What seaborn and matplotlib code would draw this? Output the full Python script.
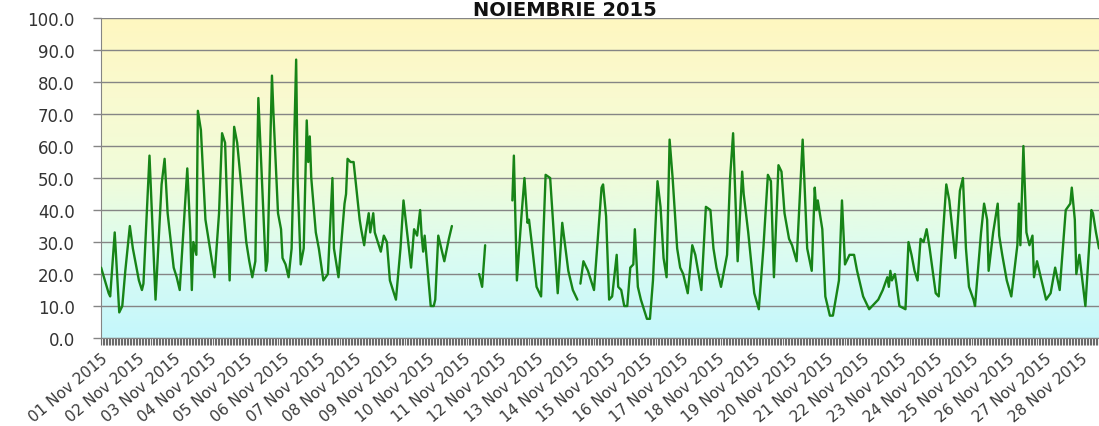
import numpy as np
import pandas as pd
import seaborn as sns
import matplotlib.pyplot as plt
import matplotlib.dates as mdates
from matplotlib.colors import LinearSegmentedColormap
from matplotlib.ticker import FormatStrFormatter

# hourly concentration readings, hours counted from 01 Nov 2015 00:00 (nan = gap)
hours = [
    0, 5, 6, 9, 12, 14, 16, 19, 21, 25, 27, 28, 32, 36, 40, 42, 44, 48, 50, 52,
    57, 59, 60, 61, 63, 64, 66, 69, 72, 75, 78, 80, 82, 85, 88, 90, 92, 96, 98, 100,
    102, 104, 109, 110, 113, 114, 117, 119, 120, 122, 124, 126, 129, 130, 132, 134,
    136, 137, 138, 139, 142, 144, 147, 150, 153, 154, 157, 161, 162, 163, 165, 167,
    169, 171, 172, 174, 175, 177, 178, 180, 181, 183, 185, 187, 189, 191, 195, 198,
    200, 205, 207, 209, 211, 212, 213, 214, 218, 220, 221, 223, 226, 227, 230, 232,
    240,
    250, 252, 254,
    263,
    272, 273, 275, 278, 280, 282, 283, 285, 288, 291, 294, 297, 302, 305, 309, 312, 315,
    316,
    317, 319, 322, 326, 331, 332, 334, 336, 338, 341, 342, 344, 346, 348, 350, 352,
    353, 355, 357, 359, 361, 363, 365, 368, 370, 372, 374, 376, 378, 381, 383, 385,
    388, 391, 393, 397, 400, 403, 405, 407, 410, 414, 416, 418, 421, 424, 425, 428,
    432, 435, 438, 441, 443, 445, 448, 450, 452, 455, 457, 460, 464, 467, 470, 472,
    473, 474, 477, 479, 482, 484, 488, 490, 492, 495, 498, 500, 504, 508, 510, 514,
    517, 520, 521, 522, 523, 525, 526, 528, 532, 534, 536, 538, 540, 542, 544, 546,
    548, 552, 554, 559, 561, 565, 568, 570, 572, 574, 577, 578, 582, 584, 586, 587,
    590, 593, 594, 596, 599, 602, 606, 607, 608, 610, 612, 614, 616, 617, 619, 622,
    625, 628, 631, 634, 638, 641, 642, 644, 645, 647, 649, 651, 655, 656, 658, 660,
]
values = [
    22, 14, 13, 33, 8, 10, 21, 35, 28, 18, 15, 17, 57, 12, 48, 56, 39, 22, 19, 15,
    53, 33, 15, 30, 26, 71, 65, 37, 28, 19, 39, 64, 61, 18, 66, 61, 51, 30, 24, 19,
    24, 75, 21, 24, 82, 70, 39, 34, 25, 23, 19, 28, 87, 49, 23, 28,
    68, 55, 63, 50, 33, 28, 18, 20, 50, 28, 19, 42, 45, 56, 55, 55,
    46, 37, 34, 29, 33, 39, 33, 39, 33, 30, 27, 32, 30, 18, 12, 28,
    43, 22, 34, 32, 40, 32, 27, 32, 10, 10, 12, 32, 26, 24, 31, 35,
    np.nan,
    20, 16, 29,
    np.nan,
    43, 57, 18, 38, 50, 36, 37, 29, 16, 13, 51, 50, 14, 36, 21, 15, 12,
    np.nan,
    17, 24, 21, 15, 47, 48, 38, 12, 13, 26, 16, 15, 10, 10, 22, 23,
    34, 16, 12, 9, 6, 6, 18, 49, 41, 25, 19, 62, 50, 28, 22, 20,
    14, 29, 26, 15, 41, 40, 28, 22, 16, 26, 50, 64, 24, 52, 45, 33,
    14, 9, 28, 51, 49, 19, 54, 52, 39, 31, 29, 24, 62, 28, 21, 47,
    40, 43, 34, 13, 7, 7, 18, 43, 23, 26, 26, 21, 13, 9, 10, 12,
    15, 19, 16, 21, 18, 20, 17, 10, 9, 30, 26, 21, 18, 31, 30, 34,
    28, 14, 13, 48, 43, 25, 46, 50, 28, 16, 12, 10, 33, 42, 37, 21,
    33, 42, 32, 26, 18, 13, 29, 42, 29, 60, 33, 29, 32, 19, 24, 18,
    12, 14, 22, 15, 40, 42, 47, 37, 20, 26, 18, 10, 40, 39, 33, 28,
]
title = 'NOIEMBRIE 2015'
start = pd.Timestamp('2015-11-01')
n_days = 28

df = pd.DataFrame({'hours': hours, 'value': values})
df['seg'] = df['value'].isna().cumsum()
df['time'] = start + pd.to_timedelta(df['hours'], unit='h')
df = df.dropna()

sns.set_style('white')
plt.rcParams['font.family'] = ['DejaVu Sans']

fig, ax = plt.subplots(figsize=(10.99, 4.27), dpi=100)
fig.subplots_adjust(left=0.092, right=1.0, bottom=0.206, top=0.9555)

# yellow -> pale green -> cyan background
cmap = LinearSegmentedColormap.from_list(
    'bg', ['#c4f7fc', '#dafcf2', '#f0fcda', '#f9fad0', '#fff7c0'])
grad = np.linspace(0, 1, 256).reshape(-1, 1)
ax.imshow(grad, aspect='auto', extent=[0, 1, 0, 1], origin='lower',
          transform=ax.transAxes, cmap=cmap, zorder=-2)

sns.lineplot(data=df, x='time', y='value', units='seg', estimator=None,
             color='#178417', linewidth=1.7, ax=ax, zorder=3)

ax.set_xlim(start, start + pd.Timedelta(hours=660))
ax.set_ylim(0, 100)
ax.set_yticks(np.arange(0, 101, 10))
ax.yaxis.set_major_formatter(FormatStrFormatter('%.1f'))
ax.yaxis.grid(True, color='#858585', linewidth=1.0)
ax.xaxis.grid(False)

ax.xaxis.set_major_locator(mdates.DayLocator())
ax.xaxis.set_minor_locator(mdates.HourLocator())
ax.xaxis.set_major_formatter(mdates.DateFormatter('%d %b %Y'))
ticks = [start + pd.Timedelta(days=i) for i in range(n_days)]
ax.set_xticks(ticks)

ax.tick_params(axis='x', which='both', bottom=True, length=5, width=0.8,
               color='#6a6a6a', labelsize=11, labelcolor='#3a3a3a', pad=4)
ax.tick_params(axis='y', left=True, length=6, width=1.0, color='#858585',
               labelsize=12, labelcolor='#333333', pad=13)
for lbl in ax.get_xticklabels():
    lbl.set_rotation(40)
    lbl.set_ha('right')
    lbl.set_rotation_mode('anchor')

ax.set_xlabel('')
ax.set_ylabel('')
for side in ['top', 'right']:
    ax.spines[side].set_visible(False)
for side in ['left', 'bottom']:
    ax.spines[side].set_color('#858585')

fig.text(0.514, 0.962, title, ha='center', va='baseline',
         fontsize=14, fontweight='bold', color='#111111')

fig.savefig('out.png', dpi=100)
